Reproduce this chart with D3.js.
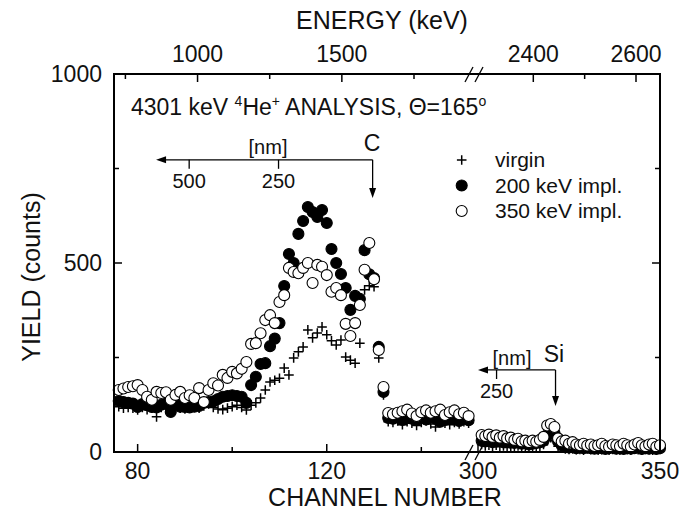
<!DOCTYPE html>
<meta charset="utf-8">
<title>RBS spectrum</title>
<script src="https://d3js.org/d3.v7.min.js"></script>
<style>
  body { margin: 0; background: #fff; }
  text { font-family: "Liberation Sans", Arial, sans-serif; fill: #111; }
</style>
<body>
<div id="chart"></div>
<script>
// ---- data ----
// left part of the broken axis: channels 76..150
var startLeft = 76;
var virginLeft = [120,116,118,116,111,118,112,116,93,118,115,112,118,116,114,117,120,116,122,127,
  118,114,112,116,120,124,118,111,124,130,143,164,185,190,195,222,204,249,265,278,
  323,302,315,331,310,294,283,296,251,243,235,288,429,440,437,249,151,80,78,82,
  72,80,76,70,78,82,74,66,80,76,72,78,74,80,76];
var impl200Left = [135,132,130,128,119,127,124,119,118,125,128,106,127,120,119,118,120,122,130,132,
  134,140,146,148,150,148,146,130,177,199,233,235,280,300,341,439,524,500,577,611,
  648,635,622,640,606,537,500,471,434,376,413,405,534,470,460,278,159,90,88,92,
  85,90,88,84,90,86,92,88,80,85,90,86,82,88,84];
var impl350Left = [164,168,172,174,177,164,146,138,159,156,158,138,151,159,143,150,143,169,132,164,
  182,176,204,196,212,208,220,238,286,288,314,349,362,341,397,415,487,476,473,487,
  500,447,495,490,468,424,434,415,339,307,341,389,482,553,457,270,172,103,100,104,
  108,112,102,95,105,110,104,108,112,98,105,110,100,104,95];
// right part: channels 301..350
var startRight = 301;
var virginRight = [20,16,18,15,18,14,16,12,15,14,16,12,10,12,10,12,14,20,30,38,
  32,15,10,8,7,8,6,7,5,8,6,7,5,6,8,5,7,6,5,7,6,5,8,6,5,7,6,5,6,7];
var impl200Right = [30,28,30,26,28,30,26,28,25,24,26,22,24,20,22,24,26,30,45,55,
  50,28,18,15,12,14,10,12,10,12,10,9,11,10,8,10,12,9,10,8,11,9,10,12,8,10,9,11,8,10];
var impl350Right = [45,42,46,40,44,38,42,36,38,32,35,28,30,26,30,27,32,40,70,74,
  66,36,28,30,22,26,20,18,22,17,20,16,18,22,16,14,20,18,15,22,18,14,20,24,18,15,20,22,14,18];

var yTicks = [0, 500, 1000];
var yMinor = [250, 750];
var chTicksLeft = [80, 120], chMinorLeft = [100, 140];
var chTicksRight = [300, 350], chMinorRight = [325];
var eTicksLeft = [1000, 1500], eMinorLeft = [750, 1250, 1750];
var eTicksRight = [2400, 2600], eMinorRight = [2500];
var legendNames = ["virgin", "200 keV impl.", "350 keV impl."];

// ---- layout ----
var W = 680, H = 513;
var L = 114, R = 660, T = 74, B = 452;
var breakLeft = 468.6, breakRight = 478;

var svg = d3.select("#chart").append("svg").attr("width", W).attr("height", H);

var xL = d3.scaleLinear().domain([75, 150]).range([L, breakLeft]);
var xR = d3.scaleLinear().domain([300, 350]).range([breakRight, R]);
var y = d3.scaleLinear().domain([0, 1000]).range([B, T]);
var eL = d3.scaleLinear().domain([750, 1750]).range([125.4, 414]);
var eR = d3.scaleLinear().domain([2400, 2600]).range([533.3, 636]);

function pts(start, vals, xs) {
  return vals.map(function(v, i) { return {x: xs(start + i), y: y(v)}; });
}
var series = [
  {name: "virgin", left: pts(startLeft, virginLeft, xL), right: pts(startRight, virginRight, xR)},
  {name: "200", left: pts(startLeft, impl200Left, xL), right: pts(startRight, impl200Right, xR)},
  {name: "350", left: pts(startLeft, impl350Left, xL), right: pts(startRight, impl350Right, xR)}
];

function drawMarker(g, kind, cx, cy) {
  if (kind === "virgin") {
    g.append("path").attr("d", "M" + (cx - 4.8) + "," + cy + "h9.6M" + cx + "," + (cy - 4.8) + "v9.6")
      .attr("stroke", "#000").attr("stroke-width", 1.5).attr("fill", "none");
  } else {
    g.append("circle").attr("cx", cx).attr("cy", cy).attr("r", 5.5)
      .attr("fill", kind === "200" ? "#000" : "#fff")
      .attr("stroke", "#000").attr("stroke-width", 1.1);
  }
}

// points
var marks = svg.append("g");
series.forEach(function(s) {
  s.left.concat(s.right).forEach(function(p) { drawMarker(marks, s.name, p.x, p.y); });
});

// frame
var ax = svg.append("g").attr("stroke", "#000").attr("stroke-width", 2).attr("fill", "none");
ax.append("rect").attr("x", L).attr("y", T).attr("width", R - L).attr("height", B - T);

function tick(x1, y1, x2, y2) {
  ax.append("line").attr("x1", x1).attr("y1", y1).attr("x2", x2).attr("y2", y2).attr("stroke-width", 1.5);
}
var maj = 8, mnr = 5;
yTicks.forEach(function(v) { tick(L, y(v), L + maj, y(v)); tick(R, y(v), R - maj, y(v)); });
yMinor.forEach(function(v) { tick(L, y(v), L + mnr, y(v)); tick(R, y(v), R - mnr, y(v)); });
chTicksLeft.forEach(function(v) { tick(xL(v), B, xL(v), B - maj); });
chMinorLeft.forEach(function(v) { tick(xL(v), B, xL(v), B - mnr); });
chTicksRight.forEach(function(v) { tick(xR(v), B, xR(v), B - maj); });
chMinorRight.forEach(function(v) { tick(xR(v), B, xR(v), B - mnr); });
eTicksLeft.forEach(function(v) { tick(eL(v), T, eL(v), T + maj); });
eMinorLeft.forEach(function(v) { tick(eL(v), T, eL(v), T + mnr); });
eTicksRight.forEach(function(v) { tick(eR(v), T, eR(v), T + maj); });
eMinorRight.forEach(function(v) { tick(eR(v), T, eR(v), T + mnr); });

// axis break marks
[T, B].forEach(function(yy) {
  [465, 475].forEach(function(x0) {
    ax.append("line").attr("x1", x0).attr("y1", yy + 8).attr("x2", x0 + 8).attr("y2", yy - 7).attr("stroke-width", 1.3);
  });
});

// tick labels
var fs = 23;
yTicks.forEach(function(v) {
  svg.append("text").attr("x", L - 12).attr("y", y(v) + 8).attr("text-anchor", "end")
    .attr("font-size", fs).text(v);
});
chTicksLeft.forEach(function(v) {
  svg.append("text").attr("x", xL(v)).attr("y", 479).attr("text-anchor", "middle").attr("font-size", fs).text(v);
});
chTicksRight.forEach(function(v) {
  svg.append("text").attr("x", xR(v)).attr("y", 479).attr("text-anchor", "middle").attr("font-size", fs).text(v);
});
eTicksLeft.forEach(function(v) {
  svg.append("text").attr("x", eL(v)).attr("y", 62).attr("text-anchor", "middle").attr("font-size", fs).text(v);
});
eTicksRight.forEach(function(v) {
  svg.append("text").attr("x", eR(v)).attr("y", 62).attr("text-anchor", "middle").attr("font-size", fs).text(v);
});

// axis titles
svg.append("text").attr("x", 385).attr("y", 506).attr("text-anchor", "middle").attr("font-size", 25).text("CHANNEL NUMBER");
svg.append("text").attr("x", 382).attr("y", 29).attr("text-anchor", "middle").attr("font-size", 25).text("ENERGY (keV)");
svg.append("text").attr("transform", "translate(40,277) rotate(-90)").attr("text-anchor", "middle")
  .attr("font-size", 25).text("YIELD (counts)");

// heading inside
var head = svg.append("text").attr("x", 131).attr("y", 115).attr("font-size", 23);
head.append("tspan").text("4301 keV ");
head.append("tspan").attr("font-size", 14).attr("dy", -9).text("4");
head.append("tspan").attr("dy", 9).text("He");
head.append("tspan").attr("font-size", 14).attr("dy", -9).text("+");
head.append("tspan").attr("dy", 9).text(" ANALYSIS, \u0398=165");
head.append("tspan").attr("font-size", 14).attr("dy", -9).text("o");

// depth annotations (in channel / count units)
function arrowHead(x, yy, dir) {
  var p = dir === "left" ? [[x, yy], [x + 10, yy - 3.5], [x + 10, yy + 3.5]]
                         : [[x, yy], [x - 3.5, yy - 10], [x + 3.5, yy - 10]];
  svg.append("path").attr("d", "M" + p.join("L") + "Z").attr("fill", "#000");
}
function depthScale(xs, fromCh, edgeCh, lineCount, tipCount, ticks) {
  var g = svg.append("g").attr("stroke", "#000").attr("stroke-width", 1.3);
  var yl = y(lineCount);
  g.append("line").attr("x1", xs(fromCh) + 4).attr("y1", yl).attr("x2", xs(edgeCh)).attr("y2", yl);
  g.append("line").attr("x1", xs(edgeCh)).attr("y1", yl).attr("x2", xs(edgeCh)).attr("y2", y(tipCount) - 4);
  arrowHead(xs(fromCh), yl, "left");
  arrowHead(xs(edgeCh), y(tipCount), "down");
  ticks.forEach(function(t) {
    g.append("line").attr("x1", xs(t.ch)).attr("y1", yl).attr("x2", xs(t.ch)).attr("y2", yl + 9);
    svg.append("text").attr("x", xs(t.ch)).attr("y", yl + 28).attr("text-anchor", "middle")
      .attr("font-size", 20).text(t.nm);
  });
}
depthScale(xL, 83.9, 129.7, 773, 672, [{ch: 90.9, nm: 500}, {ch: 109.8, nm: 250}]);
depthScale(xR, 300, 321.3, 217, 122, [{ch: 305.1, nm: 250}]);
svg.append("text").attr("x", 268).attr("y", 154).attr("text-anchor", "middle").attr("font-size", 20).text("[nm]");
svg.append("text").attr("x", 372).attr("y", 151).attr("text-anchor", "middle").attr("font-size", 23).text("C");
svg.append("text").attr("x", 512).attr("y", 365).attr("text-anchor", "middle").attr("font-size", 20).text("[nm]");
svg.append("text").attr("x", 554).attr("y", 362).attr("text-anchor", "middle").attr("font-size", 23).text("Si");

// legend
var lg = svg.append("g");
["virgin", "200", "350"].forEach(function(k, i) {
  var cy = 160 + i * 25.5;
  drawMarker(lg, k, 461.7, cy);
  lg.append("text").attr("x", 495).attr("y", cy + 7).attr("font-size", 21).text(legendNames[i]);
});
</script>
</body>
